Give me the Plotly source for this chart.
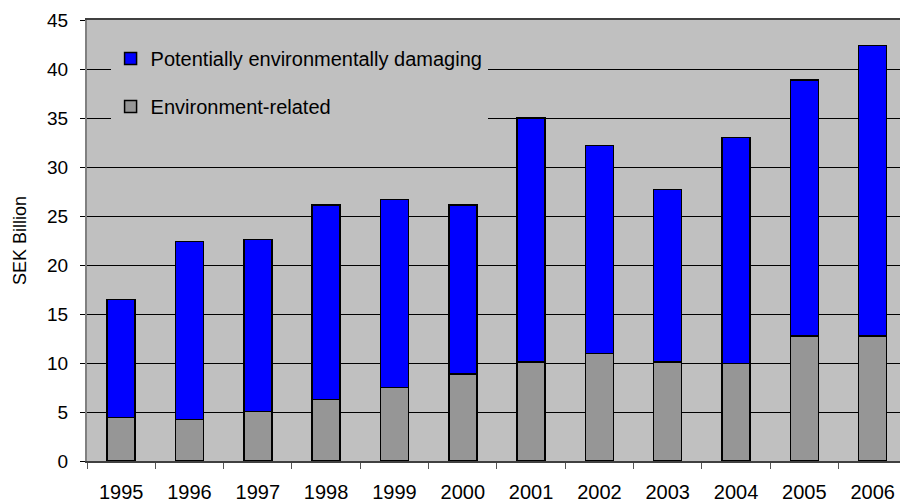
import plotly.graph_objects as go

years = ["1995", "1996", "1997", "1998", "1999", "2000", "2001", "2002", "2003", "2004", "2005", "2006"]
env_related = [4.45, 4.25, 5.05, 6.3, 7.5, 8.9, 10.1, 10.95, 10.1, 9.95, 12.75, 12.75]
totals = [16.5, 22.4, 22.6, 26.1, 26.7, 26.1, 35.0, 32.2, 27.7, 33.0, 38.9, 42.4]
damaging = [round(t - e, 2) for t, e in zip(totals, env_related)]

FONT = "Liberation Sans, Arial, sans-serif"

fig = go.Figure()
fig.add_trace(go.Bar(
    x=years, y=env_related, name="Environment-related",
    marker=dict(color="#969696", line=dict(color="black", width=1.5)),
    legendgroup="a", legendrank=2,
))
fig.add_trace(go.Bar(
    x=years, y=damaging, name="Potentially environmentally damaging",
    marker=dict(color="#0000FF", line=dict(color="black", width=1.5)),
    legendgroup="b", legendrank=1,
))

fig.update_layout(
    width=900, height=504,
    barmode="stack", bargap=0.59,
    paper_bgcolor="white", plot_bgcolor="#C0C0C0",
    margin=dict(l=87, r=0, t=20, b=43),
    font=dict(family=FONT, color="black"),
    showlegend=True,
    legend=dict(
        x=0.029, y=0.957, xanchor="left", yanchor="top",
        bgcolor="#C0C0C0", borderwidth=0,
        font=dict(size=20, family=FONT, color="black"),
        traceorder="grouped", tracegroupgap=19,
    ),
    xaxis=dict(
        type="category", range=[-0.5, 11.4],
        showgrid=False, tickson="boundaries",
        ticks="outside", ticklen=6, tickcolor="#555555", tickwidth=1,
        tickfont=dict(size=20, family=FONT, color="black"),
        ticklabelstandoff=12,
        showline=True, linecolor="#404040", linewidth=1.5, mirror=True,
        automargin=False,
    ),
    yaxis=dict(
        range=[0, 45], dtick=5, tick0=0,
        showgrid=True, gridcolor="black", gridwidth=1,
        zeroline=False,
        ticks="outside", ticklen=5, tickcolor="black", tickwidth=1,
        tickfont=dict(size=19, family=FONT, color="black"),
        ticklabelstandoff=8,
        showline=True, linecolor="#808080", linewidth=2,
        title=dict(text="SEK Billion", font=dict(size=18, family=FONT, color="black"), standoff=16),
        automargin=False,
    ),
)

fig.write_html(
    "out.html",
    config={"displayModeBar": False},
    post_script="document.body.style.margin='0';document.body.style.overflow='hidden';",
)
